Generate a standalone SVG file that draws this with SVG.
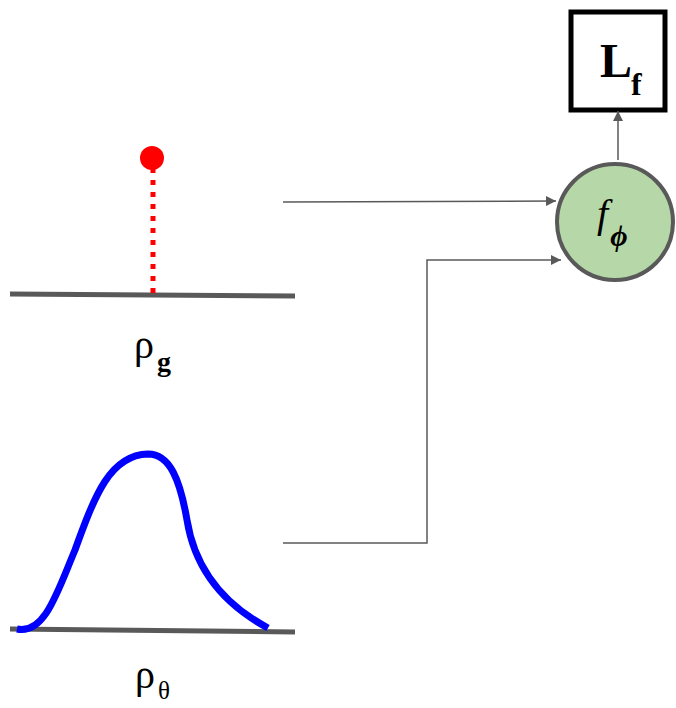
<svg xmlns="http://www.w3.org/2000/svg" width="676" height="708" viewBox="0 0 676 708">
<defs>
<marker id="ah" viewBox="0 0 10 10" refX="10" refY="5" markerWidth="10" markerHeight="10" markerUnits="userSpaceOnUse" orient="auto">
<path d="M0,0 L10,5 L0,10 z" fill="#595959"/>
</marker>
</defs>
<style>
.conn{fill:none;stroke:#595959;stroke-width:1.5}
.base{stroke:#595959;stroke-width:5}
.lbl{font-family:"Liberation Serif","DejaVu Serif",serif;fill:#000}
</style>
<rect width="676" height="708" fill="#fff"/>
<g id="node-rho-g">
<line class="base" x1="10" y1="294" x2="295" y2="296"/>
<line x1="153" y1="168" x2="153" y2="296" stroke="#ff0000" stroke-width="5" stroke-dasharray="5,7"/>
<circle cx="152" cy="158" r="12" fill="#ff0000"/>
<text class="lbl" x="134" y="358" font-size="40">ρ<tspan font-size="28" font-weight="bold" dy="13" dx="3">g</tspan></text>
</g>
<g id="node-rho-theta">
<line class="base" x1="10" y1="629" x2="295" y2="632"/>
<path d="M17,629 C45,635 58,590 75,550 C95,495 110,455 148,454 C170,454 180,480 187,520 C195,570 225,605 268,628" fill="none" stroke="#0000ff" stroke-width="7"/>
<text class="lbl" x="135" y="688" font-size="40">ρ<tspan font-size="25" dy="11" dx="3">θ</tspan></text>
</g>
<g id="node-f-phi">
<circle cx="615" cy="222" r="58" fill="#b6d7a8" stroke="#595959" stroke-width="4"/>
<text class="lbl" x="597" y="227" font-size="40" font-style="italic">f<tspan font-size="30" font-weight="bold" dy="19" dx="2">ϕ</tspan></text>
</g>
<g id="node-Lf">
<rect x="571" y="12" width="94" height="98" fill="#fff" stroke="#000" stroke-width="5"/>
<text class="lbl" x="600" y="77" font-size="48" font-weight="bold">L<tspan font-size="32" dy="18" dx="-1">f</tspan></text>
</g>
<g id="connectors">
<path class="conn" d="M283,202 L556,201" marker-end="url(#ah)"/>
<path class="conn" d="M283,543 L427,543 L427,260 L561,260" marker-end="url(#ah)"/>
<path class="conn" d="M618,160 L618,111" marker-end="url(#ah)"/>
</g>
</svg>
